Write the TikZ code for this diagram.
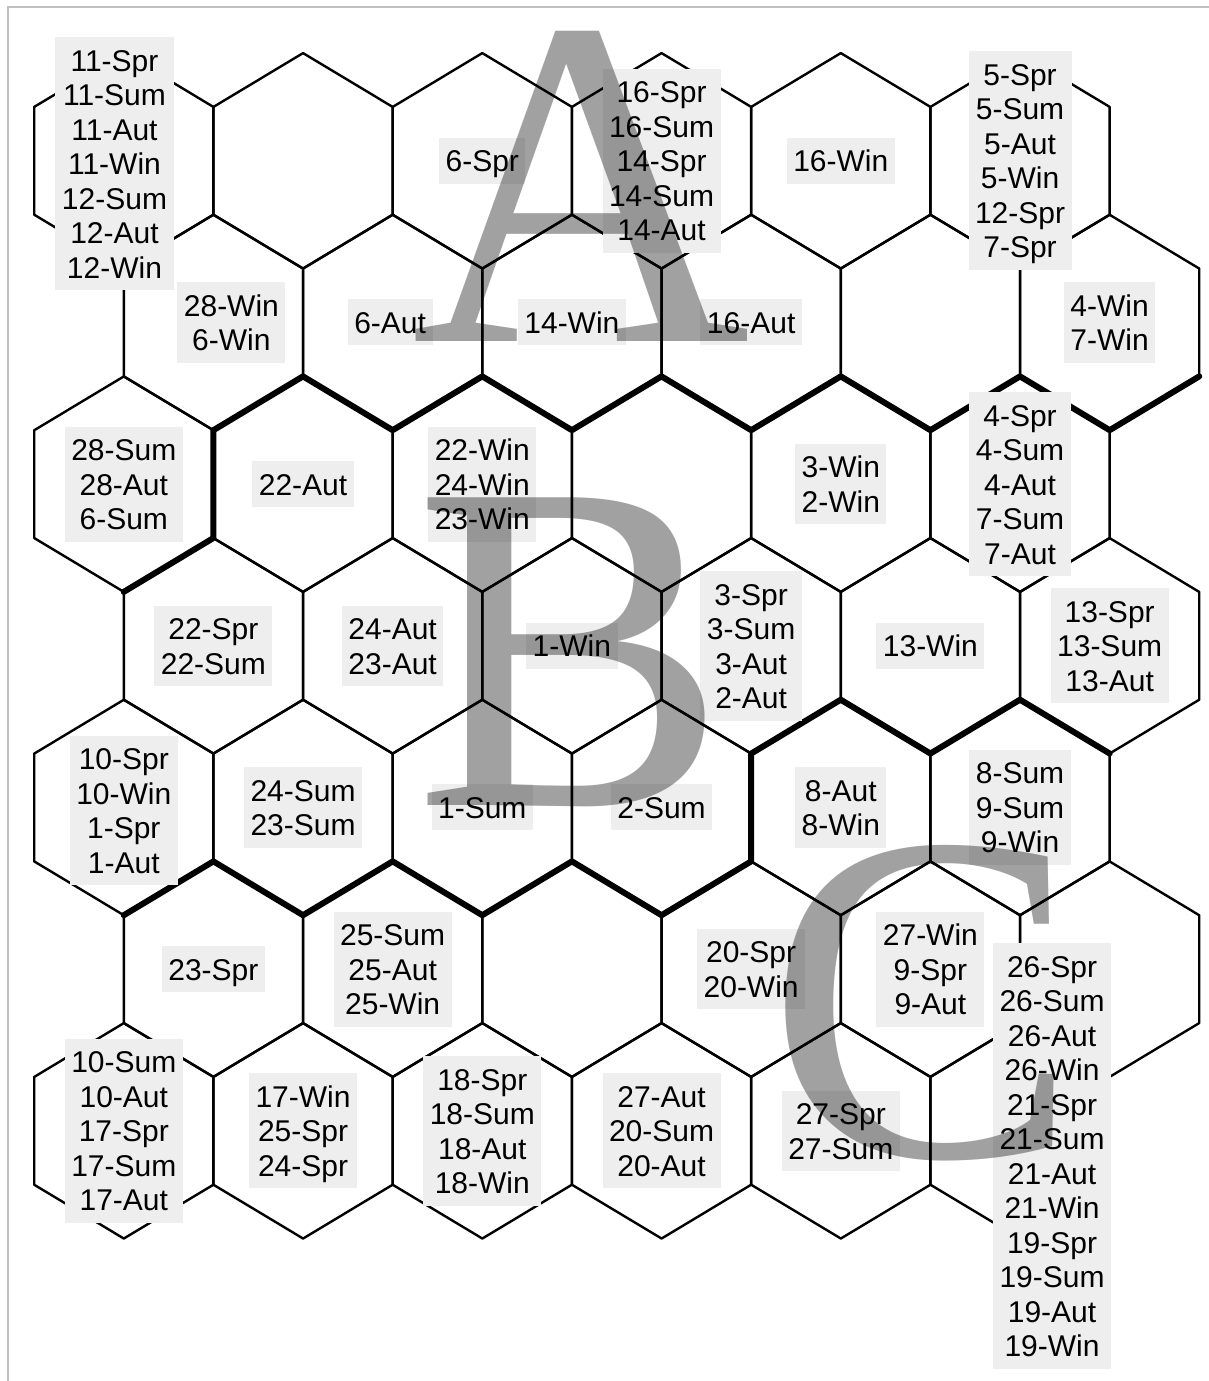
\documentclass[tikz,border=0pt]{standalone}
\usepackage{fontspec}
\setmainfont{Liberation Sans}
\newfontfamily\serifletter{Liberation Serif}
\usepackage{xcolor}
\usepackage{tikz}
\usetikzlibrary{calc}
\definecolor{boxgray}{HTML}{EEEEEE}
\definecolor{framegray}{HTML}{C0C0C0}
\newcommand{\hexw}{89.6}
\newcommand{\hexr}{107.7}
\newcommand{\hexs}{53.9}
\newcommand{\lblstrut}{\rule[-6pt]{0pt}{34pt}}
\newcommand{\cellnames}[1]{\lblstrut#1\lblstrut}

\begin{document}
\begin{tikzpicture}[x=1pt, y=-1pt,
    cell/.style={line width=2.4pt, line join=round},
    border/.style={line width=6pt, line join=round, line cap=round},
    lbl/.style={fill=boxgray, align=center, inner xsep=6.5pt, inner ysep=6pt,
                font=\fontsize{30}{34.5}\selectfont},
    bigletter/.style={font=\serifletter\fontsize{470}{470}\selectfont, text=black,
                      text opacity=0.37, inner sep=0pt, anchor=base}]
  \useasboundingbox (0,0) rectangle (1209,1381);
  \draw[framegray, line width=2pt] (7.5,1381) -- (7.5,7.5) -- (1209,7.5);

  \foreach \r in {0,...,6} {
    \foreach \c in {0,...,5} {
      \pgfmathsetmacro\hx{123.8+179.25*\c+\hexw*mod(\r,2)}
      \pgfmathsetmacro\hy{160.8+161.67*\r}
      \coordinate (h-\r-\c) at (\hx,\hy);
      \draw[cell] (h-\r-\c) +(0,-\hexr) coordinate (h-\r-\c-t)
        -- +(\hexw,-\hexs) coordinate (h-\r-\c-tr)
        -- +(\hexw,\hexs) coordinate (h-\r-\c-br)
        -- +(0,\hexr) coordinate (h-\r-\c-b)
        -- +(-\hexw,\hexs) coordinate (h-\r-\c-bl)
        -- +(-\hexw,-\hexs) coordinate (h-\r-\c-tl)
        -- cycle;
    }
  }

  % cluster boundaries
  \draw[border] (h-2-0-b) -- (h-2-0-br) -- (h-2-0-tr)
    \foreach \c in {0,...,5} { -- (h-1-\c-b) -- (h-1-\c-br) };
  \draw[border] (h-4-0-b) -- (h-4-0-br) -- (h-4-1-b) -- (h-4-1-br)
    -- (h-4-2-b) -- (h-4-2-br) -- (h-4-3-b) -- (h-4-3-br) -- (h-4-3-tr)
    -- (h-3-3-br) -- (h-3-4-b) -- (h-3-4-br) -- (h-3-5-b);

  \node[lbl] (lab-0-0) at ($(h-0-0)+(-9.3,3)$) {\cellnames{11-Spr\\11-Sum\\11-Aut\\11-Win\\12-Sum\\12-Aut\\12-Win}};
  \node[lbl] (lab-0-2) at (h-0-2) {\cellnames{6-Spr}};
  \node[lbl] (lab-0-3) at (h-0-3) {\cellnames{16-Spr\\16-Sum\\14-Spr\\14-Sum\\14-Aut}};
  \node[lbl] (lab-0-4) at (h-0-4) {\cellnames{16-Win}};
  \node[lbl] (lab-0-5) at (h-0-5) {\cellnames{5-Spr\\5-Sum\\5-Aut\\5-Win\\12-Spr\\7-Spr}};
  \node[lbl] (lab-1-0) at ($(h-1-0)+(18,0)$) {\cellnames{28-Win\\6-Win}};
  \node[lbl] (lab-1-1) at ($(h-1-1)+(-2.5,0)$) {\cellnames{6-Aut}};
  \node[lbl] (lab-1-2) at (h-1-2) {\cellnames{14-Win}};
  \node[lbl] (lab-1-3) at (h-1-3) {\cellnames{16-Aut}};
  \node[lbl] (lab-1-5) at (h-1-5) {\cellnames{4-Win\\7-Win}};
  \node[lbl] (lab-2-0) at (h-2-0) {\cellnames{28-Sum\\28-Aut\\6-Sum}};
  \node[lbl] (lab-2-1) at (h-2-1) {\cellnames{22-Aut}};
  \node[lbl] (lab-2-2) at (h-2-2) {\cellnames{22-Win\\24-Win\\23-Win}};
  \node[lbl] (lab-2-4) at (h-2-4) {\cellnames{3-Win\\2-Win}};
  \node[lbl] (lab-2-5) at (h-2-5) {\cellnames{4-Spr\\4-Sum\\4-Aut\\7-Sum\\7-Aut}};
  \node[lbl] (lab-3-0) at (h-3-0) {\cellnames{22-Spr\\22-Sum}};
  \node[lbl] (lab-3-1) at (h-3-1) {\cellnames{24-Aut\\23-Aut}};
  \node[lbl] (lab-3-2) at (h-3-2) {\cellnames{1-Win}};
  \node[lbl] (lab-3-3) at (h-3-3) {\cellnames{3-Spr\\3-Sum\\3-Aut\\2-Aut}};
  \node[lbl] (lab-3-4) at (h-3-4) {\cellnames{13-Win}};
  \node[lbl] (lab-3-5) at (h-3-5) {\cellnames{13-Spr\\13-Sum\\13-Aut}};
  \node[lbl] (lab-4-0) at ($(h-4-0)+(0,3)$) {\cellnames{10-Spr\\10-Win\\1-Spr\\1-Aut}};
  \node[lbl] (lab-4-1) at (h-4-1) {\cellnames{24-Sum\\23-Sum}};
  \node[lbl] (lab-4-2) at (h-4-2) {\cellnames{1-Sum}};
  \node[lbl] (lab-4-3) at (h-4-3) {\cellnames{2-Sum}};
  \node[lbl] (lab-4-4) at (h-4-4) {\cellnames{8-Aut\\8-Win}};
  \node[lbl] (lab-4-5) at (h-4-5) {\cellnames{8-Sum\\9-Sum\\9-Win}};
  \node[lbl] (lab-5-0) at (h-5-0) {\cellnames{23-Spr}};
  \node[lbl] (lab-5-1) at (h-5-1) {\cellnames{25-Sum\\25-Aut\\25-Win}};
  \node[lbl] (lab-5-3) at (h-5-3) {\cellnames{20-Spr\\20-Win}};
  \node[lbl] (lab-5-4) at (h-5-4) {\cellnames{27-Win\\9-Spr\\9-Aut}};
  \node[lbl] (lab-6-0) at (h-6-0) {\cellnames{10-Sum\\10-Aut\\17-Spr\\17-Sum\\17-Aut}};
  \node[lbl] (lab-6-1) at (h-6-1) {\cellnames{17-Win\\25-Spr\\24-Spr}};
  \node[lbl] (lab-6-2) at (h-6-2) {\cellnames{18-Spr\\18-Sum\\18-Aut\\18-Win}};
  \node[lbl] (lab-6-3) at (h-6-3) {\cellnames{27-Aut\\20-Sum\\20-Aut}};
  \node[lbl] (lab-6-4) at (h-6-4) {\cellnames{27-Spr\\27-Sum}};
  \node[lbl] (lab-6-5) at ($(h-6-5)+(32,25)$) {\cellnames{26-Spr\\26-Sum\\26-Aut\\26-Win\\21-Spr\\21-Sum\\21-Aut\\21-Win\\19-Spr\\19-Sum\\19-Aut\\19-Win}};

  \node[bigletter] (let-a) at (581,341) {A};
  \node[bigletter] (let-b) at (571,805) {B};
  \node[bigletter] (let-c) at (923,1156) {C};
\end{tikzpicture}
\end{document}
